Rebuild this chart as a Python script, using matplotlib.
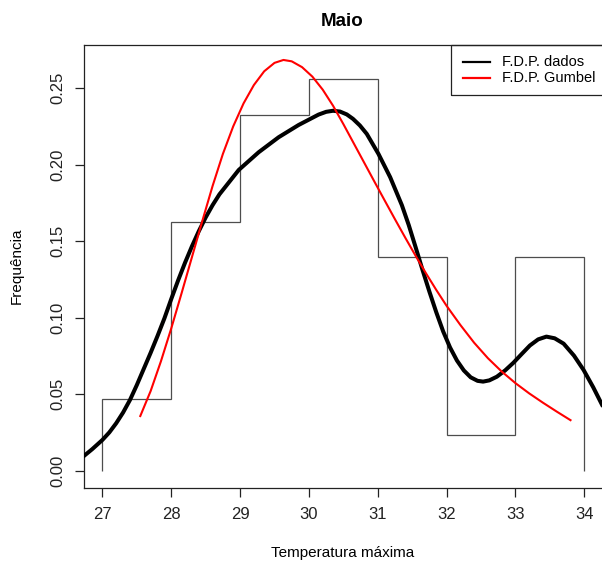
import matplotlib
matplotlib.use("Agg")
import matplotlib.pyplot as plt
from matplotlib.lines import Line2D
from matplotlib.patches import Rectangle

plt.rcParams['font.family'] = ['Liberation Sans', 'DejaVu Sans']

# Histogram of May maximum temperatures (counts per 1 degree class)
bin_edges = [27, 28, 29, 30, 31, 32, 33, 34]
bin_counts = [2, 7, 10, 11, 6, 1, 6]

# Kernel density of the data (F.D.P. dados)
kde_x = [26.72, 26.85, 27.00, 27.10, 27.20, 27.30, 27.40, 27.50, 27.60, 27.70,
         27.80, 27.90, 28.00, 28.10, 28.20, 28.30, 28.40, 28.50, 28.60, 28.70,
         28.98, 29.27, 29.56, 29.85, 30.14, 30.25, 30.35, 30.45, 30.55, 30.64,
         30.74, 30.84, 31.01, 31.18, 31.35, 31.45, 31.55, 31.65, 31.75, 31.85,
         31.95, 32.05, 32.15, 32.25, 32.35, 32.45, 32.53, 32.62, 32.73, 32.85,
         32.97, 33.09, 33.21, 33.33, 33.45, 33.57, 33.70, 33.85, 33.99, 34.13,
         34.26, 34.30]
kde_y = [0.0092, 0.0140, 0.0201, 0.0250, 0.0310, 0.0380, 0.0462, 0.0560, 0.0665, 0.0770,
         0.0880, 0.0995, 0.1122, 0.1244, 0.1359, 0.1466, 0.1565, 0.1655, 0.1735, 0.1806,
         0.1965, 0.2081, 0.2179, 0.2259, 0.2327, 0.2345, 0.2352, 0.2347, 0.2328, 0.2299,
         0.2256, 0.2201, 0.2070, 0.1918, 0.1735, 0.1605, 0.1460, 0.1312, 0.1170, 0.1035,
         0.0910, 0.0805, 0.0720, 0.0655, 0.0610, 0.0587, 0.0582, 0.0590, 0.0614, 0.0655,
         0.0705, 0.0762, 0.0818, 0.0858, 0.0876, 0.0865, 0.0830, 0.0752, 0.0658, 0.0545,
         0.0429, 0.0395]

# Fitted Gumbel density (F.D.P. Gumbel)
gum_x = [27.55, 27.70, 27.85, 28.00, 28.15, 28.30, 28.45, 28.60, 28.75, 28.90,
         29.05, 29.20, 29.35, 29.50, 29.63, 29.75, 29.90, 30.05, 30.20, 30.35,
         30.50, 30.65, 30.80, 30.95, 31.10, 31.25, 31.40, 31.55, 31.70, 31.85,
         32.00, 32.20, 32.40, 32.60, 32.80, 33.00, 33.20, 33.40, 33.60, 33.80]
gum_y = [0.0357, 0.0520, 0.0715, 0.0930, 0.1160, 0.1395, 0.1630, 0.1860, 0.2070, 0.2250,
         0.2400, 0.2520, 0.2610, 0.2665, 0.2684, 0.2675, 0.2637, 0.2575, 0.2490, 0.2385,
         0.2265, 0.2140, 0.2015, 0.1890, 0.1766, 0.1643, 0.1522, 0.1404, 0.1290, 0.1181,
         0.1077, 0.0952, 0.0836, 0.0735, 0.0648, 0.0572, 0.0505, 0.0444, 0.0386, 0.0330]

y_ticks = [0.00, 0.05, 0.10, 0.15, 0.20, 0.25]
x_ticks = [27, 28, 29, 30, 31, 32, 33, 34]

W, H = 602, 565
fig = plt.figure(figsize=(W / 100, H / 100), dpi=100)

left, right, top, bottom = 83.5, 603, 44.5, 487.5
ax = fig.add_axes([left / W, 1 - bottom / H, (right - left) / W, (bottom - top) / H])

total = sum(bin_counts)
density = [c / total for c in bin_counts]
ax.stairs(density, bin_edges, baseline=0, fill=False, color='#4d4d4d', lw=0.9)

ax.plot(kde_x, kde_y, color='black', lw=2.9, solid_capstyle='butt',
        solid_joinstyle='round', zorder=3)
ax.plot(gum_x, gum_y, color='red', lw=1.5, solid_joinstyle='round', zorder=4)

ax.set_xlim(26.725, 34.272)
ax.set_ylim(-0.011, 0.2785)
ax.set_xticks(x_ticks)
ax.set_xticklabels([str(t) for t in x_ticks])
ax.set_yticks(y_ticks)
ax.set_yticklabels([f"{t:.2f}" for t in y_ticks], rotation=90, va='center')
ax.tick_params(axis='both', direction='out', length=6.8, width=0.9, labelsize=12,
               colors='#222222')
ax.tick_params(axis='x', pad=7)
ax.tick_params(axis='y', pad=6)
for s in ax.spines.values():
    s.set_linewidth(0.9)
    s.set_color('#222222')
ax.spines['right'].set_visible(False)

fig.text(342 / W, 1 - 22 / H, "Maio", ha='center', va='center',
         fontsize=13.5, fontweight='bold')
fig.text(343 / W, 1 - 553 / H, "Temperatura máxima", ha='center', va='center',
         fontsize=11)
fig.text(17 / W, 1 - 266 / H, "Frequência", ha='center', va='center',
         fontsize=11, rotation=90)

# Legend box in the top-right corner of the plot region
def fx(px):
    return px / W

def fy(py):
    return 1 - py / H

fig.add_artist(Rectangle((fx(450.7), fy(95)), fx(610) - fx(450.7), fy(44.5) - fy(95),
                         transform=fig.transFigure, fill=False, lw=0.9,
                         edgecolor='#222222'))
legend_rows = [("F.D.P. dados", 'black', 62.3), ("F.D.P. Gumbel", 'red', 78.3)]
for label, col, py in legend_rows:
    fig.add_artist(Line2D([fx(463), fx(490)], [fy(py), fy(py)],
                          transform=fig.transFigure, color=col, lw=1.6))
    fig.text(fx(502), fy(py), label, ha='left', va='center', fontsize=10.5)

fig.savefig("out.png", dpi=100)
